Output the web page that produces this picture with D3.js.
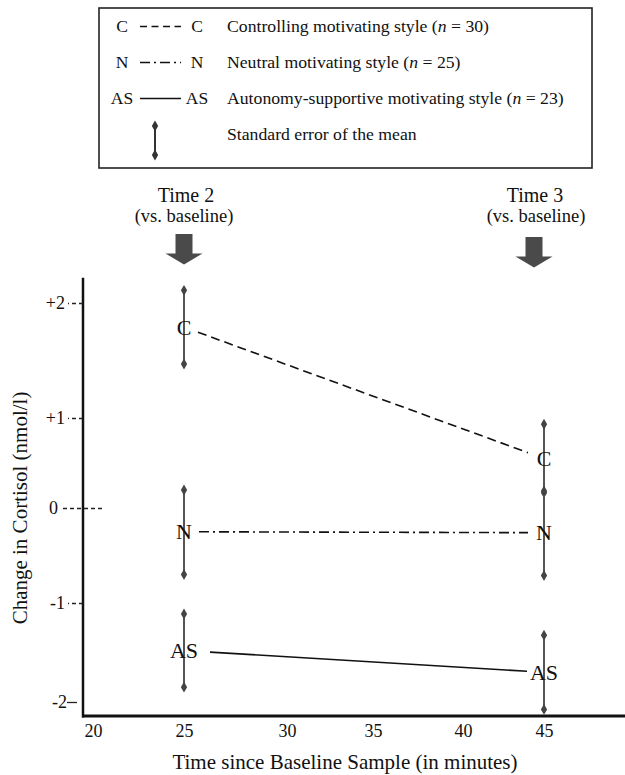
<!DOCTYPE html>
<html><head><meta charset="utf-8">
<script src="https://cdn.jsdelivr.net/npm/d3@7"></script>
<style>
body{margin:0;background:#fff}
svg{display:block}
text{font-family:"Liberation Serif","Times New Roman",serif;fill:#111}
</style>
</head><body>
<svg id="chart" width="625" height="775"></svg>
<script>
// ---------------- data ----------------
const times = [25, 45];
const groupCodes = ["C", "N", "AS"];
const meansC = [1.79, 0.55];
const seC = [0.32, 0.38];
const meansN = [-0.25, -0.26];
const seN = [0.45, 0.45];
const meansAS = [-1.48, -1.70];
const seAS = [0.37, 0.375];
const groupNames = ["Controlling motivating style", "Neutral motivating style", "Autonomy-supportive motivating style"];
const groupN = [30, 25, 23];
const seLabel = "Standard error of the mean";
const xTickValues = [20, 25, 30, 35, 40, 45];
const yTickValues = [-2, -1, 0, 1, 2];
const yTickLabels = ["-2", "-1", "0", "+1", "+2"];
const timeLabels = ["Time 2", "Time 3"];
const timeSub = "(vs. baseline)";
const xTitle = "Time since Baseline Sample (in minutes)";
const yTitle = "Change in Cortisol (nmol/l)";

// ---------------- layout ----------------
const svg = d3.select("#chart");
const FONT = '"Liberation Serif","Times New Roman",serif';
const x = d3.scaleLinear().domain(xTickValues).range([93, 184, 287, 373, 463, 544]);
const y = d3.scaleLinear().domain(yTickValues).range([702, 603, 508, 418, 303]);
const axisX0 = 83;
const axisY0 = 716;

const series = [
  {code: "C", means: meansC, se: seC, dash: "9,5", trimL: 14, trimR: 16},
  {code: "N", means: meansN, se: seN, dash: "10,4,2,4", trimL: 15, trimR: 16},
  {code: "AS", means: meansAS, se: seAS, dash: null, trimL: 26, trimR: 17}
];

// axes lines
svg.append("line").attr("x1", axisX0).attr("x2", axisX0)
  .attr("y1", y(2.22)).attr("y2", axisY0 + 1.5)
  .attr("stroke", "#111").attr("stroke-width", 2.5);
svg.append("line").attr("x1", axisX0 - 1).attr("x2", 625)
  .attr("y1", axisY0).attr("y2", axisY0)
  .attr("stroke", "#111").attr("stroke-width", 3);

// x axis labels
const gx = svg.append("g").attr("transform", `translate(0,${axisY0})`)
  .call(d3.axisBottom(x).tickValues(xTickValues).tickSize(0).tickPadding(8));
gx.select(".domain").remove();
gx.selectAll("text").attr("font-family", FONT).attr("font-size", 18).attr("fill", "#111");

// y axis
const gy = svg.append("g").attr("transform", `translate(${axisX0},0)`)
  .call(d3.axisLeft(y).tickValues(yTickValues).tickFormat((d, i) => yTickLabels[i]).tickSize(15).tickPadding(3));
gy.select(".domain").remove();
gy.selectAll("text").attr("font-family", FONT).attr("font-size", 18).attr("fill", "#111");
gy.selectAll(".tick line").attr("stroke", "#222").attr("stroke-width", 1.3).attr("stroke-dasharray", "4,3");
gy.selectAll(".tick").each(function(d) {
  const t = d3.select(this);
  if (d === 0) {
    t.select("line").attr("x1", 19).attr("x2", -21);
    t.select("text").attr("x", -25);
  } else if (d === -2) {
    t.select("line").attr("x2", -16).attr("x1", -6).attr("stroke-dasharray", null);
    t.select("text").attr("x", -16);
  }
});

// axis titles
svg.append("text").attr("x", 345).attr("y", 769).attr("text-anchor", "middle")
  .attr("font-size", 21).text(xTitle);
svg.append("text").attr("transform", "translate(27,508) rotate(-90)").attr("text-anchor", "middle")
  .attr("font-size", 21).text(yTitle);

// connecting lines
const line = d3.line();
series.forEach(s => {
  const x0 = x(times[0]), x1 = x(times[1]);
  const y0 = y(s.means[0]), y1 = y(s.means[1]);
  const dx = x1 - x0;
  const a = s.trimL / dx, b = 1 - s.trimR / dx;
  const pts = [
    [d3.interpolateNumber(x0, x1)(a), d3.interpolateNumber(y0, y1)(a)],
    [d3.interpolateNumber(x0, x1)(b), d3.interpolateNumber(y0, y1)(b)]
  ];
  svg.append("path").attr("d", line(pts)).attr("fill", "none")
    .attr("stroke", "#111").attr("stroke-width", 1.6)
    .attr("stroke-dasharray", s.dash);
});

// error bars + letters
const diamond = d3.symbol().type(d3.symbolDiamond).size(34);
series.forEach(s => {
  times.forEach((t, i) => {
    const cx = x(t);
    const top = y(s.means[i] + s.se[i]);
    const bot = y(s.means[i] - s.se[i]);
    svg.append("line").attr("x1", cx).attr("x2", cx).attr("y1", top).attr("y2", bot)
      .attr("stroke", "#555").attr("stroke-width", 2);
    [top, bot].forEach(yy => svg.append("path").attr("d", diamond())
      .attr("transform", `translate(${cx},${yy})`).attr("fill", "#444"));
  });
});
series.forEach(s => {
  times.forEach((t, i) => {
    svg.append("text").attr("x", x(t)).attr("y", y(s.means[i])).attr("dy", "0.35em")
      .attr("text-anchor", "middle").attr("font-size", 22).text(s.code);
  });
});

// time annotations and arrows
const annot = [
  {cx: 184, tx: 186, sx: 184, top: 234},
  {cx: 534, tx: 535, sx: 536, top: 237}
];
annot.forEach((a, i) => {
  svg.append("text").attr("x", a.tx).attr("y", 202).attr("text-anchor", "middle")
    .attr("font-size", 20).text(timeLabels[i]);
  svg.append("text").attr("x", a.sx).attr("y", 222).attr("text-anchor", "middle")
    .attr("font-size", 18.5).text(timeSub);
  const p = d3.path();
  const sw = 8.5, hw = 18.5, sh = 19.5, hh = 11;
  p.moveTo(a.cx - sw, a.top);
  p.lineTo(a.cx + sw, a.top);
  p.lineTo(a.cx + sw, a.top + sh);
  p.lineTo(a.cx + hw, a.top + sh);
  p.lineTo(a.cx, a.top + sh + hh);
  p.lineTo(a.cx - hw, a.top + sh);
  p.lineTo(a.cx - sw, a.top + sh);
  p.closePath();
  svg.append("path").attr("d", p.toString()).attr("fill", "#4a4a4a");
});

// legend
const lg = svg.append("g");
lg.append("rect").attr("x", 99).attr("y", 8).attr("width", 493).attr("height", 160)
  .attr("fill", "none").attr("stroke", "#222").attr("stroke-width", 1.6);
const rowY = [26, 62, 98];
series.forEach((s, i) => {
  const cy = rowY[i];
  lg.append("text").attr("x", 122).attr("y", cy).attr("dy", "0.33em").attr("text-anchor", "middle")
    .attr("font-size", 17.5).text(s.code);
  lg.append("text").attr("x", 197).attr("y", cy).attr("dy", "0.33em").attr("text-anchor", "middle")
    .attr("font-size", 17.5).text(s.code);
  lg.append("line").attr("x1", 140).attr("x2", 181).attr("y1", cy + 0.5).attr("y2", cy + 0.5)
    .attr("stroke", "#111").attr("stroke-width", 1.6)
    .attr("stroke-dasharray", s.code === "C" ? "7,4.5" : (s.code === "N" ? "10,4,2,4" : null));
  const tx = lg.append("text").attr("x", 227).attr("y", cy).attr("dy", "0.33em").attr("font-size", 17.7);
  tx.append("tspan").text(groupNames[i] + " (");
  tx.append("tspan").attr("font-style", "italic").text("n");
  tx.append("tspan").text(" = " + groupN[i] + ")");
});
lg.append("line").attr("x1", 155).attr("x2", 155).attr("y1", 126).attr("y2", 155)
  .attr("stroke", "#333").attr("stroke-width", 2);
[126, 155].forEach(yy => lg.append("path").attr("d", diamond())
  .attr("transform", `translate(155,${yy})`).attr("fill", "#333"));
lg.append("text").attr("x", 227).attr("y", 134).attr("dy", "0.33em").attr("font-size", 17.7).text(seLabel);
</script>
</body></html>
